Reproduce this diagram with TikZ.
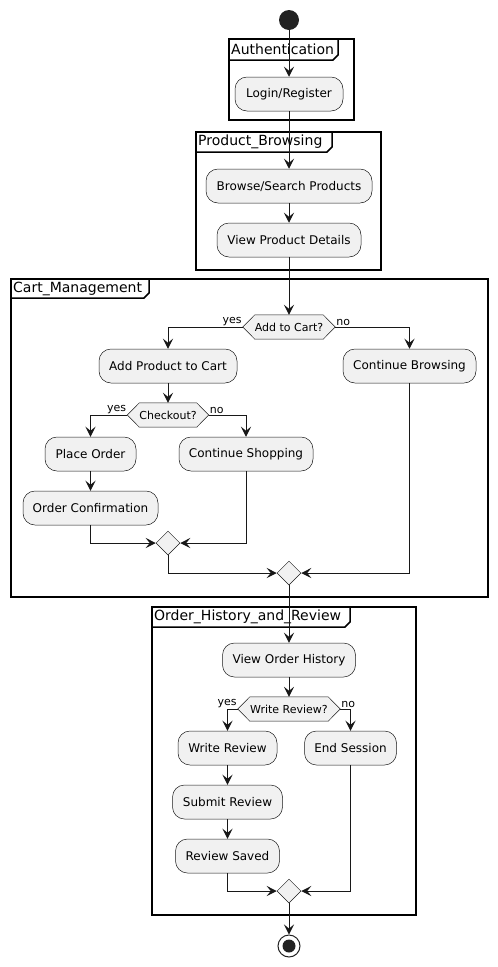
\documentclass[tikz,border=0pt]{standalone}
\usepackage{fontspec}
\setmainfont{DejaVu Sans}
\usetikzlibrary{arrows.meta,shapes.geometric,calc}
\definecolor{boxfill}{HTML}{F1F1F1}
\definecolor{linec}{HTML}{181818}
\definecolor{dotc}{HTML}{222222}
\pgfdeclarelayer{background}
\pgfsetlayers{background,main}
\tikzset{
  act/.style={draw=linec, fill=boxfill, rounded corners=12pt, line width=0.5pt, minimum height=34pt, inner sep=0pt, font=\fontsize{12}{14}\selectfont},
  dec/.style={minimum height=24pt, inner sep=0pt, font=\fontsize{11}{13}\selectfont},
  hexline/.style={draw=linec, fill=boxfill, line width=0.5pt},
  merge/.style={diamond, draw=linec, fill=boxfill, line width=0.5pt, minimum width=24pt, minimum height=24pt, inner sep=0pt},
  flow/.style={draw=linec, line width=1pt, -{Stealth[length=10pt,width=10pt,inset=4pt]}},
  frm/.style={draw=black, line width=1.5pt},
  frmlabel/.style={anchor=west, inner sep=0pt, font=\fontsize{14}{16}\selectfont},
  guard/.style={inner sep=1pt, font=\fontsize{11}{13}\selectfont},
}
\newcommand{\umlframe}[8]{%
  \draw[frm] (#2,#3) rectangle (#4,#5);
  \draw[frm] (#2,#7) -- (#6-5,#7) -- (#6,#7-5) -- (#6,#3);
  \node[frmlabel] (#1) at (#2+2,{(#3+#7)/2}) {#8};
}
\newcommand{\hexa}[1]{%
  \begin{pgfonlayer}{background}
  \draw[hexline] (#1.west) -- ([xshift=12pt]#1.north west) -- ([xshift=-12pt]#1.north east) -- (#1.east) -- ([xshift=-12pt]#1.south east) -- ([xshift=12pt]#1.south west) -- cycle;
  \end{pgfonlayer}}
\begin{document}
\begin{tikzpicture}[x=1pt,y=-1pt]
\useasboundingbox (0,0) rectangle (498,967);
% frames
\umlframe{fauth}{229}{39}{354}{120}{338}{60}{Authentication}
\umlframe{fprod}{196}{132}{381}{270}{332}{152}{Product\_Browsing}
\umlframe{fcart}{11}{279}{488}{597}{149}{298}{Cart\_Management}
\umlframe{fohr}{152}{607}{416}{915}{350}{627}{Order\_History\_and\_Review}
% start / end
\node[circle, fill=dotc, minimum size=20pt, inner sep=0pt] (start) at (289,20) {};
\node[circle, draw=dotc, line width=1pt, minimum size=22pt, inner sep=0pt] (stop) at (289,946) {};
\node[circle, fill=dotc, minimum size=13pt, inner sep=0pt] (stopdot) at (289,946) {};
% activities
\node[act, minimum width=108pt] (login) at (289,94) {Login/Register};
\node[act, minimum width=166pt] (browse) at (289,186) {Browse/Search Products};
\node[act, minimum width=144pt] (viewpd) at (289,240) {View Product Details};
\node[dec, minimum width=92pt] (d1) at (289,327) {Add to Cart?};
\hexa{d1}
\node[act, minimum width=138pt] (addp) at (168,366) {Add Product to Cart};
\node[act, minimum width=133pt] (contb) at (409.5,366) {Continue Browsing};
\node[dec, minimum width=81pt] (d2) at (168,415) {Checkout?};
\hexa{d2}
\node[act, minimum width=91pt] (place) at (90.5,454) {Place Order};
\node[act, minimum width=134pt] (conts) at (246,454) {Continue Shopping};
\node[act, minimum width=135pt] (confirm) at (90.5,508) {Order Confirmation};
\node[merge] (m1) at (168,543) {};
\node[merge] (m2) at (289,573) {};
\node[act, minimum width=133pt] (voh) at (289,660) {View Order History};
\node[dec, minimum width=102pt] (d3) at (289,709) {Write Review?};
\hexa{d3}
\node[act, minimum width=99pt] (wr) at (227.5,748) {Write Review};
\node[act, minimum width=92pt] (es) at (350.5,748) {End Session};
\node[act, minimum width=110pt] (sr) at (227.5,802) {Submit Review};
\node[act, minimum width=104pt] (rs) at (227.5,856) {Review Saved};
\node[merge] (m3) at (289,891) {};
% guards
\node[guard, anchor=south east] (g1y) at (d1.west) {yes};
\node[guard, anchor=south west] (g1n) at (d1.east) {no};
\node[guard, anchor=south east] (g2y) at (d2.west) {yes};
\node[guard, anchor=south west] (g2n) at (d2.east) {no};
\node[guard, anchor=south east] (g3y) at (d3.west) {yes};
\node[guard, anchor=south west] (g3n) at (d3.east) {no};
% flows
\draw[flow] (start) -- (login);
\draw[flow] (login) -- (browse);
\draw[flow] (browse) -- (viewpd);
\draw[flow] (viewpd) -- (d1.north);
\draw[flow] (d1.west) -| (addp.north);
\draw[flow] (d1.east) -| (contb.north);
\draw[flow] (addp) -- (d2.north);
\draw[flow] (d2.west) -| (place.north);
\draw[flow] (d2.east) -| (conts.north);
\draw[flow] (place) -- (confirm);
\draw[flow] (confirm.south) |- (m1.west);
\draw[flow] (conts.south) |- (m1.east);
\draw[flow] (m1.south) |- (m2.west);
\draw[flow] (contb.south) |- (m2.east);
\draw[flow] (m2.south) -- (voh.north);
\draw[flow] (voh) -- (d3.north);
\draw[flow] (d3.west) -| (wr.north);
\draw[flow] (d3.east) -| (es.north);
\draw[flow] (wr) -- (sr);
\draw[flow] (sr) -- (rs);
\draw[flow] (rs.south) |- (m3.west);
\draw[flow] (es.south) |- (m3.east);
\draw[flow] (m3.south) -- (stop.north);
\end{tikzpicture}
\end{document}
